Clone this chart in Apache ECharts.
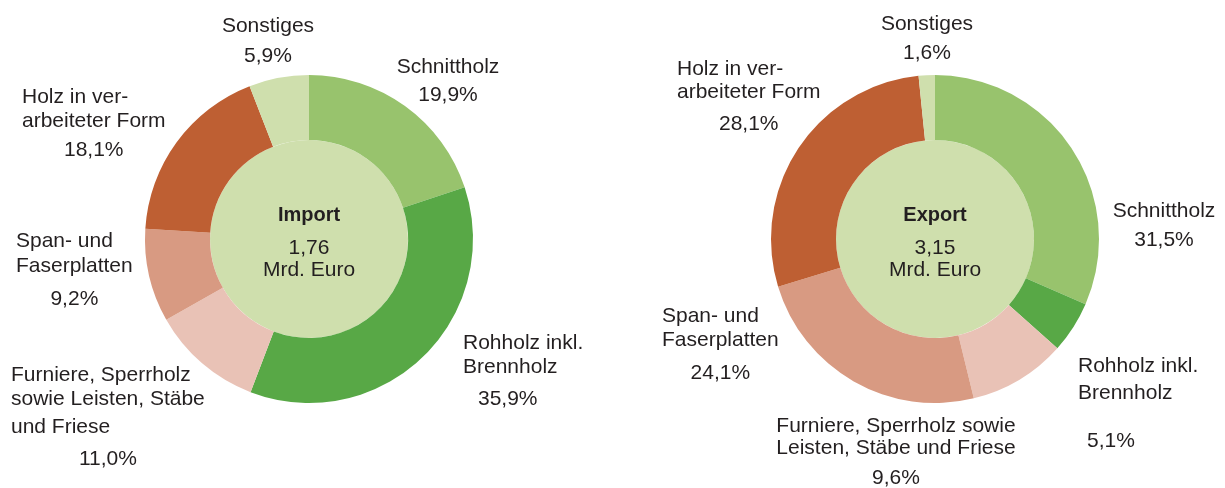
<!DOCTYPE html>
<html>
<head>
<meta charset="utf-8">
<script src="https://cdn.jsdelivr.net/npm/echarts@6/dist/echarts.min.js"></script>
<style>
html,body{margin:0;padding:0;background:#fff;}
#chart{width:1225px;height:488px;}
</style>
</head>
<body>
<div id="chart"></div>
<script>
// ---- data ----
const categories = ['Schnittholz', 'Rohholz inkl. Brennholz', 'Furniere, Sperrholz sowie Leisten, Stäbe und Friese', 'Span- und Faserplatten', 'Holz in verarbeiteter Form', 'Sonstiges'];
const importLabels = ['Schnittholz', 'Rohholz inkl.\nBrennholz', 'Furniere, Sperrholz\nsowie Leisten, Stäbe\nund Friese', 'Span- und\nFaserplatten', 'Holz in ver-\narbeiteter Form', 'Sonstiges'];
const exportLabels = ['Schnittholz', 'Rohholz inkl.\nBrennholz', 'Furniere, Sperrholz sowie\nLeisten, Stäbe und Friese', 'Span- und\nFaserplatten', 'Holz in ver-\narbeiteter Form', 'Sonstiges'];
const importShares = [19.9, 35.9, 11.0, 9.2, 18.1, 5.9];
const exportShares = [31.5, 5.1, 9.6, 24.1, 28.1, 1.6];
const chartTitles = ['Import', 'Export'];
const chartTotals = ['1,76', '3,15'];
const totalUnit = 'Mrd. Euro';

// ---- styles / layout ----
const colors = ['#98c36d', '#58a846', '#e9c2b6', '#d89a82', '#be5f33', '#cfdfad'];
const centerFill = '#cfdfad';
const textColor = '#231f20';
const FONT = '"Liberation Sans", Arial, Helvetica, sans-serif';
const FS = 21;

// label placement: x, y (top of block), block align, name line heights, pct align, pct line height, pct left padding
const importLayout = [
  {x: 448, y: 55,  a: 'center', nlh: [24],         pa: 'center', plh: 32, pad: 0},
  {x: 463, y: 331, a: 'left',   nlh: [24, 24],     pa: 'left',   plh: 40, pad: 15},
  {x: 11,  y: 363, a: 'left',   nlh: [24, 24, 32], pa: 'center', plh: 32, pad: 0},
  {x: 16,  y: 229, a: 'left',   nlh: [25, 25],     pa: 'center', plh: 40, pad: 0},
  {x: 22,  y: 85,  a: 'left',   nlh: [24, 24],     pa: 'center', plh: 34, pad: 0},
  {x: 268, y: 14,  a: 'center', nlh: [24],         pa: 'center', plh: 36, pad: 0}
];
const exportLayout = [
  {x: 1164, y: 199, a: 'center', nlh: [24],     pa: 'center', plh: 34, pad: 0},
  {x: 1078, y: 353, a: 'left',   nlh: [27, 27], pa: 'left',   plh: 69, pad: 9},
  {x: 896,  y: 415, a: 'center', nlh: [22, 22], pa: 'center', plh: 38, pad: 0},
  {x: 662,  y: 304, a: 'left',   nlh: [24, 24], pa: 'center', plh: 42, pad: 0},
  {x: 677,  y: 58,  a: 'left',   nlh: [23, 23], pa: 'center', plh: 41, pad: 0},
  {x: 927,  y: 12,  a: 'center', nlh: [24],     pa: 'center', plh: 34, pad: 0}
];
const centers = [[309, 239], [935, 239]];
const innerR = 99, outerR = 164;

function fmtPct(v) { return v.toFixed(1).replace('.', ',') + '%'; }

function buildData(shares, labels, layout) {
  return shares.map((v, i) => {
    const L = layout[i];
    const lines = labels[i].split('\n');
    const rich = {
      p: {fontSize: FS, fontFamily: FONT, color: textColor, lineHeight: L.plh, align: L.pa, padding: [0, 0, 0, L.pad]}
    };
    lines.forEach((l, k) => {
      rich['n' + k] = {fontSize: FS, fontFamily: FONT, color: textColor, lineHeight: L.nlh[k], align: L.a};
    });
    return {
      value: v,
      name: categories[i],
      itemStyle: {color: colors[i]},
      label: {
        formatter: lines.map((l, k) => '{n' + k + '|' + l + '}').join('\n') + '\n{p|' + fmtPct(v) + '}',
        rich: rich
      }
    };
  });
}

function donut(idx, shares, labels, layout) {
  return {
    type: 'pie',
    center: centers[idx],
    radius: [innerR, outerR],
    startAngle: 90,
    clockwise: true,
    avoidLabelOverlap: false,
    silent: true,
    animation: false,
    itemStyle: {borderWidth: 0},
    label: {show: true, position: 'outside'},
    labelLine: {show: false},
    labelLayout: function (params) {
      const c = layout[params.dataIndex];
      return {x: c.x, y: c.y, align: c.a, verticalAlign: 'top'};
    },
    data: buildData(shares, labels, layout)
  };
}

function centerDisc(idx) {
  return {
    type: 'pie',
    center: centers[idx],
    radius: [0, innerR],
    silent: true,
    animation: false,
    label: {show: false},
    labelLine: {show: false},
    itemStyle: {color: centerFill},
    data: [{value: 1, name: chartTitles[idx]}]
  };
}

function centerTitle(idx) {
  return {
    text: chartTitles[idx],
    subtext: chartTotals[idx] + '\n' + totalUnit,
    left: centers[idx][0],
    top: 203,
    textAlign: 'center',
    padding: 0,
    itemGap: 10,
    textStyle: {fontFamily: FONT, fontSize: 20, fontWeight: 'bold', color: textColor, lineHeight: 24},
    subtextStyle: {fontFamily: FONT, fontSize: FS, color: textColor, lineHeight: 22}
  };
}

const chart = echarts.init(document.getElementById('chart'), null, {renderer: 'canvas'});
chart.setOption({
  backgroundColor: '#ffffff',
  animation: false,
  title: [centerTitle(0), centerTitle(1)],
  series: [
    centerDisc(0),
    centerDisc(1),
    donut(0, importShares, importLabels, importLayout),
    donut(1, exportShares, exportLabels, exportLayout)
  ]
});
</script>
</body>
</html>
